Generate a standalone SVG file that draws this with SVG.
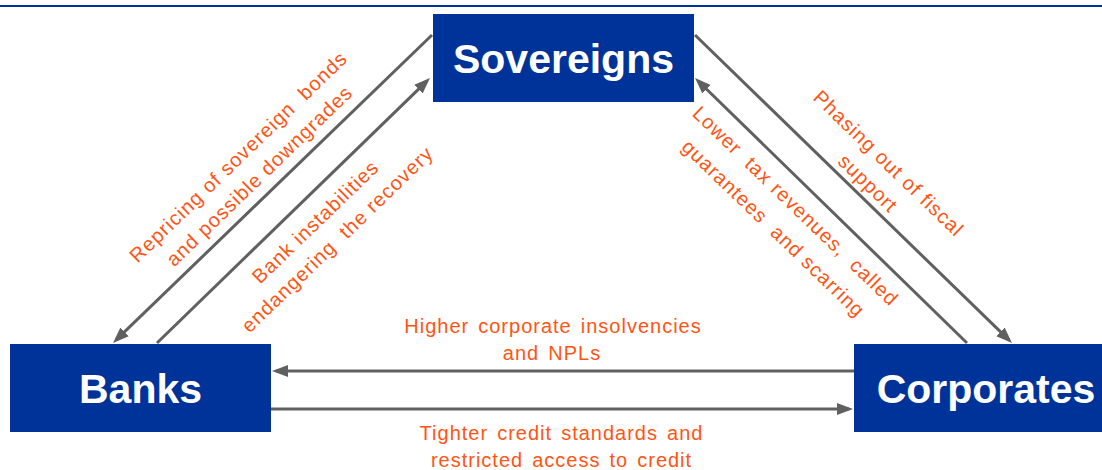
<svg xmlns="http://www.w3.org/2000/svg" width="1102" height="470" viewBox="0 0 1102 470">
  <defs>
    <style>
      .box { fill: #003399; }
      .title { font-family: "Liberation Sans", Arial, sans-serif; font-weight: bold; font-size: 41px; fill: #ffffff; text-anchor: middle; }
      .lbl { font-family: "Liberation Sans", Arial, sans-serif; font-size: 20px; fill: #FF5514; text-anchor: middle; letter-spacing: 1px; }
      .hl { word-spacing: 2.5px; }
      .conn { stroke: #606060; stroke-width: 3; fill: none; marker-end: url(#ah); }
    </style>
    <marker id="ah" markerUnits="userSpaceOnUse" markerWidth="17" markerHeight="13" refX="12" refY="6.5" orient="auto">
      <path d="M0,0.5 L16,6.5 L0,12.5 z" fill="#606060"/>
    </marker>
  </defs>
  <rect width="1102" height="470" fill="#ffffff"/>
  <rect x="0" y="5" width="1102" height="2" fill="#003399"/>

  <g id="connectors">
    <line class="conn" x1="432" y1="35" x2="115.9" y2="340.2"/>
    <line class="conn" x1="157" y1="343" x2="427.1" y2="80.8"/>
    <line class="conn" x1="695" y1="35" x2="1009.1" y2="340.2"/>
    <line class="conn" x1="967" y1="343" x2="697.9" y2="80.8"/>
    <line class="conn" x1="854" y1="371" x2="276" y2="371"/>
    <line class="conn" x1="271" y1="409" x2="849" y2="409"/>
  </g>

  <g id="labels">
    <g transform="translate(239,157.5) rotate(-44)">
      <text class="lbl" x="0" y="6" xml:space="preserve">Repricing of sovereign  bonds</text>
    </g>
    <g transform="translate(260,176.5) rotate(-44)">
      <text class="lbl" x="0" y="6">and possible downgrades</text>
    </g>
    <g transform="translate(316,222.5) rotate(-44)">
      <text class="lbl" x="0" y="6">Bank instabilities</text>
    </g>
    <g transform="translate(338,240) rotate(-44)">
      <text class="lbl" x="0" y="6" xml:space="preserve">endangering  the recovery</text>
    </g>
    <g transform="translate(888,164) rotate(44)">
      <text class="lbl" x="0" y="6">Phasing out of fiscal</text>
    </g>
    <g transform="translate(867.5,184) rotate(44)">
      <text class="lbl" x="0" y="6">support</text>
    </g>
    <g transform="translate(795,206.7) rotate(44)">
      <text class="lbl" x="0" y="6" xml:space="preserve">Lower  tax revenues,  called</text>
    </g>
    <g transform="translate(773,229) rotate(44)">
      <text class="lbl" x="0" y="6" xml:space="preserve">guarantees  and scarring</text>
    </g>
    <text class="lbl hl" x="553" y="332.5">Higher corporate insolvencies</text>
    <text class="lbl hl" x="552" y="360">and NPLs</text>
    <text class="lbl hl" x="561.5" y="439.5">Tighter credit standards and</text>
    <text class="lbl hl" x="561.5" y="467">restricted access to credit</text>
  </g>

  <g id="sovereigns">
    <rect class="box" x="433" y="14" width="261" height="88"/>
    <text class="title" x="563.5" y="72.5">Sovereigns</text>
  </g>
  <g id="banks">
    <rect class="box" x="10" y="344" width="261" height="88"/>
    <text class="title" x="140.5" y="403">Banks</text>
  </g>
  <g id="corporates">
    <rect class="box" x="854" y="344" width="264" height="88"/>
    <text class="title" x="986" y="403">Corporates</text>
  </g>
</svg>
